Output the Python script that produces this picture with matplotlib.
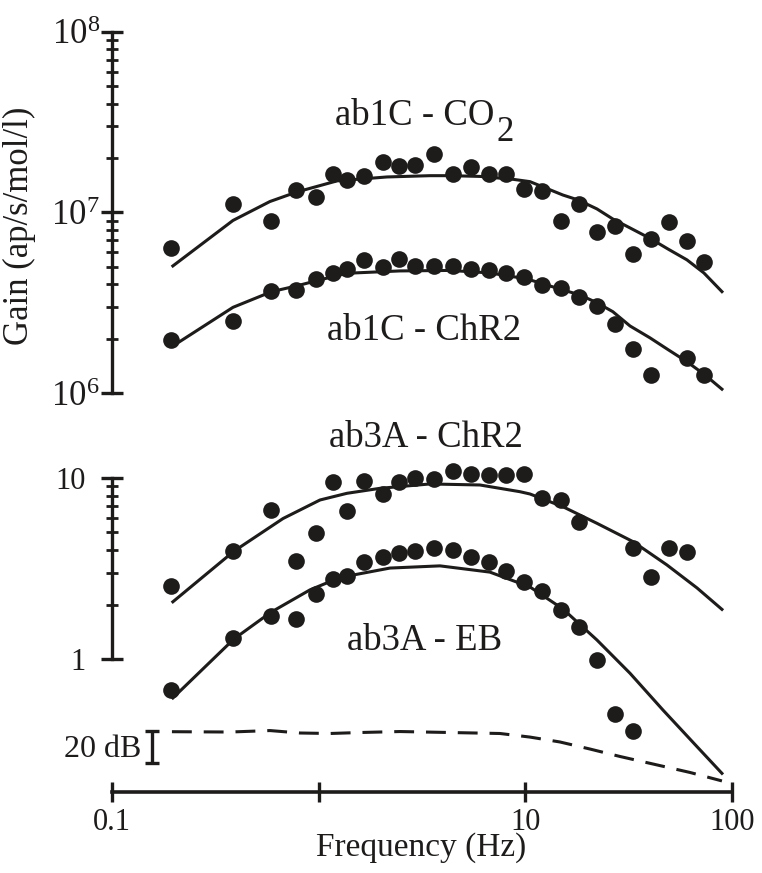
import numpy as np
import matplotlib
matplotlib.use('Agg')
import matplotlib.pyplot as plt
from matplotlib.ticker import FixedLocator, NullFormatter

plt.rcParams['font.family'] = ['Liberation Serif', 'DejaVu Serif']
plt.rcParams['mathtext.fontset'] = 'custom'
plt.rcParams['mathtext.rm'] = 'Liberation Serif'
plt.rcParams['mathtext.it'] = 'Liberation Serif:italic'
plt.rcParams['mathtext.bf'] = 'Liberation Serif:bold'

INK = '#1e1b1b'
nan = np.nan

# ---------------- data ----------------
freq = [0.194, 0.387, 0.588, 0.781, 0.976, 1.171, 1.372, 1.664, 2.054, 2.455,
        2.936, 3.605, 4.481, 5.475, 6.637, 8.048, 9.85, 12.07, 14.80, 18.17,
        22.18, 27.19, 33.12, 40.38, 49.40, 60.42, 73.6]

gain_ab1c_co2 = [6.33e6, 1.11e7, 8.93e6, 1.33e7, 1.21e7, 1.64e7, 1.51e7, 1.59e7, 1.90e7, 1.81e7,
                 1.83e7, 2.10e7, 1.63e7, 1.78e7, 1.63e7, 1.63e7, 1.34e7, 1.32e7, 9.0e6, 1.11e7,
                 7.82e6, 8.44e6, 5.87e6, 7.15e6, 8.85e6, 6.92e6, 5.34e6]
gain_ab1c_chr2 = [1.96e6, 2.51e6, 3.67e6, 3.74e6, 4.25e6, 4.59e6, 4.86e6, 5.46e6, 4.99e6, 5.52e6,
                  5.05e6, 5.04e6, 5.04e6, 4.88e6, 4.82e6, 4.60e6, 4.41e6, 3.94e6, 3.83e6, 3.42e6,
                  3.02e6, 2.40e6, 1.75e6, 1.25e6, nan, 1.56e6, 1.26e6]
gain_ab3a_chr2 = [2.54, 3.95, 6.68, 3.48, 4.95, 9.47, 6.57, 9.63, 8.19, 9.50,
                  10.0, 9.85, 11.0, 10.52, 10.36, 10.35, 10.52, 7.72, 7.59, 5.68,
                  nan, nan, 4.13, 2.83, 4.09, 3.88, nan]
gain_ab3a_eb = [0.674, 1.298, 1.733, 1.659, 2.28, 2.77, 2.89, 3.42, 3.65, 3.87,
                3.94, 4.09, 4.00, 3.67, 3.42, 3.07, 2.65, 2.37, 1.87, 1.50,
                0.984, 0.495, 0.399, nan, nan, nan, nan]

fit_ab1c_co2_freq = [0.197, 0.385, 0.581, 0.785, 1.226, 2.14, 3.456, 4.32, 6.03, 8.71, 10.53,
                     15.20, 17.97, 22.2, 26.5, 32.1, 40.1, 48.97, 60.5, 73.1, 89.4]
fit_ab1c_co2_gain = [5.05e6, 9.02e6, 1.148e7, 1.297e7, 1.493e7, 1.570e7, 1.596e7, 1.596e7, 1.581e7,
                     1.524e7, 1.479e7, 1.247e7, 1.172e7, 1.045e7, 9.19e6, 8.20e6, 7.18e6, 6.27e6,
                     5.46e6, 4.62e6, 3.64e6]

fit_ab1c_chr2_freq = [0.197, 0.385, 0.5925, 0.785, 1.015, 1.37, 2.474, 4.32, 6.74, 10.18, 15.20,
                      18.37, 22.2, 26.5, 32.1, 40.1, 48.97, 60.5, 73.95, 89.4]
fit_ab1c_chr2_gain = [1.82e6, 2.98e6, 3.64e6, 3.92e6, 4.23e6, 4.60e6, 4.74e6, 4.77e6, 4.62e6,
                      4.28e6, 3.72e6, 3.49e6, 3.16e6, 2.82e6, 2.35e6, 2.02e6, 1.74e6, 1.49e6,
                      1.26e6, 1.05e6]

fit_ab3a_chr2_freq = [0.197, 0.389, 0.672, 1.015, 1.37, 1.98, 3.456, 6.03, 9.42, 10.53, 15.2,
                      22.2, 33.2, 48.4, 67.7, 89.4]
fit_ab3a_chr2_gain = [2.07, 3.94, 5.97, 7.56, 8.23, 8.77, 9.27, 9.15, 8.40, 8.16, 6.94,
                      5.62, 4.45, 3.31, 2.47, 1.88]

fit_ab3a_eb_freq = [0.197, 0.389, 0.585, 0.908, 1.268, 2.213, 3.863, 6.74, 10.53, 15.2, 22.2,
                    32.1, 46.3, 67.7, 89.4]
fit_ab3a_eb_gain = [0.609, 1.290, 1.807, 2.41, 2.82, 3.18, 3.27, 3.02, 2.50, 1.89, 1.274,
                    0.834, 0.523, 0.328, 0.2335]

ref_freq = [0.195, 0.372, 0.581, 0.812, 1.134, 1.584, 2.474, 4.32, 7.54, 10.53, 14.7,
            20.5, 28.7, 42.4, 62.6, 89.4]
ref_db = [0.0, -0.2, 0.7, -0.8, -1.1, -0.5, 0.1, -0.5, -1.1, -3.3, -6.3,
          -10.6, -15.2, -20.1, -25.0, -30.2]

scalebar_freq = 0.1556
scalebar_db = [0.6, -19.4]

xtick_vals = [0.1, 1, 10, 100]
xtick_labels = ['0.1', '', '10', '100']
top_ytick_vals = [1e6, 1e7, 1e8]
top_ytick_labels = [r'$10^{6}$', r'$10^{7}$', r'$10^{8}$']
bot_ytick_vals = [1, 10]
bot_ytick_labels = ['1', '10']

# ---------------- layout helpers (pixel based) ----------------
W, H = 762, 873
fig = plt.figure(figsize=(W / 100, H / 100), dpi=100)


def rect(x0, y0, x1, y1):
    return [x0 / W, 1 - y1 / H, (x1 - x0) / W, (y1 - y0) / H]


def ftext(x, y, s, **kw):
    return fig.text(x / W, 1 - y / H, s, color=INK, **kw)


# axes geometry
X0, X1 = 112, 732
TOP_Y8, TOP_Y6 = 31.7, 393
BOT_TOP, BOT_BOT = 440, 792
Y10, PXDEC = 478, 181

ax_top = fig.add_axes(rect(X0, TOP_Y8, X1, TOP_Y6))
ax_bot = fig.add_axes(rect(X0, BOT_TOP, X1, BOT_BOT))
ax_db = fig.add_axes(rect(X0, BOT_TOP, X1, BOT_BOT))

for ax in (ax_top, ax_bot, ax_db):
    ax.set_xscale('log')
    ax.set_xlim(0.1, 100)
    ax.patch.set_visible(False)

ax_top.set_yscale('log')
ax_top.set_ylim(1e6, 1e8)
ax_bot.set_yscale('log')
ax_bot.set_ylim(10 ** (1 - (BOT_BOT - Y10) / PXDEC), 10 ** (1 + (Y10 - BOT_TOP) / PXDEC))
ax_db.set_ylim((731.7 - BOT_BOT) / 1.63, (731.7 - BOT_TOP) / 1.63)
ax_db.axis('off')

LW = 2.2
MS = 12

# top panel
ax_top.plot(fit_ab1c_co2_freq, fit_ab1c_co2_gain, '-', color=INK, lw=LW, clip_on=False)
ax_top.plot(fit_ab1c_chr2_freq, fit_ab1c_chr2_gain, '-', color=INK, lw=LW, clip_on=False)
ax_top.plot(freq, gain_ab1c_co2, 'o', ms=MS, color=INK, mec='none', clip_on=False)
ax_top.plot(freq, gain_ab1c_chr2, 'o', ms=MS, color=INK, mec='none', clip_on=False)

# bottom panel
ax_bot.plot(fit_ab3a_chr2_freq, fit_ab3a_chr2_gain, '-', color=INK, lw=LW, clip_on=False)
ax_bot.plot(fit_ab3a_eb_freq, fit_ab3a_eb_gain, '-', color=INK, lw=LW, clip_on=False)
ax_bot.plot(freq, gain_ab3a_chr2, 'o', ms=MS, color=INK, mec='none', clip_on=False)
ax_bot.plot(freq, gain_ab3a_eb, 'o', ms=MS, color=INK, mec='none', clip_on=False)

# reference (dB) dashed line and scale bar
ax_db.plot(ref_freq, ref_db, color=INK, lw=LW, dashes=(6.5, 3.9), clip_on=False)
ax_db.plot([scalebar_freq, scalebar_freq], scalebar_db, color=INK, lw=2.4,
           solid_capstyle='butt', clip_on=False)
ax_db.plot([scalebar_freq, scalebar_freq], scalebar_db, '_', color=INK, ms=10.5, mew=2.4,
           clip_on=False)

# ---------------- axes styling ----------------
for ax in (ax_top, ax_bot):
    for s in ('top', 'right'):
        ax.spines[s].set_visible(False)

ax_top.spines['bottom'].set_visible(False)
ax_top.spines['left'].set_linewidth(2.4)
ax_top.spines['left'].set_color(INK)
ax_top.tick_params(axis='x', which='both', bottom=False, labelbottom=False)
ax_top.yaxis.set_major_locator(FixedLocator(top_ytick_vals))
ax_top.set_yticklabels(top_ytick_labels)
ax_top.yaxis.set_minor_locator(FixedLocator([m * 10 ** e for e in (6, 7) for m in range(2, 10)]))
ax_top.yaxis.set_minor_formatter(NullFormatter())
ax_top.tick_params(axis='y', which='major', direction='inout', length=16.5, width=2.4,
                   color=INK, labelsize=25, pad=0.5, labelcolor=INK)
ax_top.tick_params(axis='y', which='minor', direction='inout', length=8, width=2.0, color=INK)

ax_bot.spines['left'].set_bounds(1, 10)
ax_bot.spines['left'].set_linewidth(2.4)
ax_bot.spines['left'].set_color(INK)
ax_bot.spines['bottom'].set_linewidth(2.6)
ax_bot.spines['bottom'].set_color(INK)
ax_bot.yaxis.set_major_locator(FixedLocator(bot_ytick_vals))
ax_bot.set_yticklabels(bot_ytick_labels)
ax_bot.yaxis.set_minor_locator(FixedLocator(list(range(2, 10))))
ax_bot.yaxis.set_minor_formatter(NullFormatter())
ax_bot.tick_params(axis='y', which='major', direction='inout', length=16.5, width=2.4,
                   color=INK, labelsize=22, pad=10.5, labelcolor=INK)
ax_bot.tick_params(axis='y', which='minor', direction='inout', length=8, width=2.0, color=INK)
ax_bot.xaxis.set_major_locator(FixedLocator(xtick_vals))
ax_bot.set_xticklabels(xtick_labels)
ax_bot.xaxis.set_minor_locator(FixedLocator([]))
ax_bot.tick_params(axis='x', which='major', direction='inout', length=15, width=2.4,
                   color=INK, labelsize=22, pad=4, labelcolor=INK)

# ---------------- texts ----------------
ftext(421, 848, 'Frequency (Hz)', fontsize=24, ha='center', va='center')
ftext(19, 226, 'Gain (ap/s/mol/l)', fontsize=25, ha='center', va='center', rotation=90)

t_co2 = ftext(415, 125, 'ab1C - CO', fontsize=26.5, ha='center', va='baseline')
fig.add_artist(plt.Annotation('2', xy=(1, 0), xycoords=t_co2, xytext=(1.5, -6),
                              textcoords='offset points', fontsize=25, color=INK,
                              ha='left', va='baseline'))
ftext(424, 340, 'ab1C - ChR2', fontsize=26.5, ha='center', va='baseline')
ftext(426, 446.7, 'ab3A - ChR2', fontsize=26.5, ha='center', va='baseline')
ftext(425, 650, 'ab3A - EB', fontsize=26.5, ha='center', va='baseline')
ftext(141.7, 756.7, '20 dB', fontsize=23, ha='right', va='baseline')

fig.savefig('out.png', dpi=100, facecolor='white')
